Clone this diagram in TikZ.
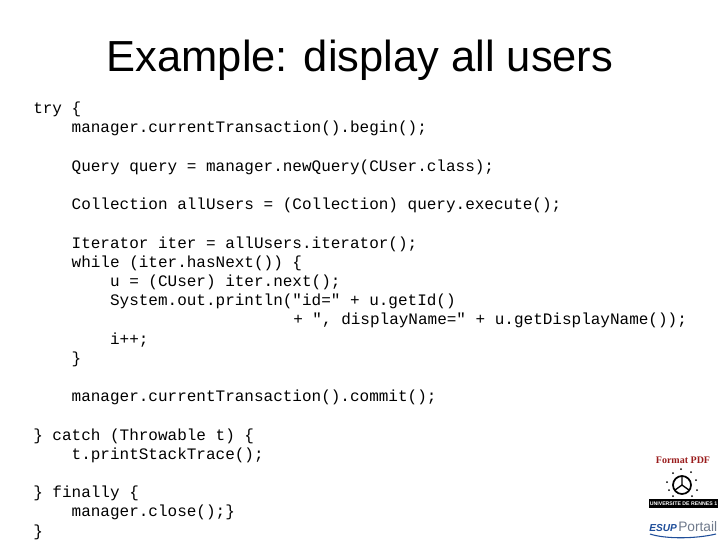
\documentclass[tikz,border=0pt]{standalone}
\usepackage{fontspec}
\setmainfont{Liberation Sans}
\newfontfamily\codefont{Liberation Mono}
\newfontfamily\logofont{Liberation Serif}
\definecolor{pdfred}{HTML}{9A1C1C}
\definecolor{esupblue}{HTML}{1F4E9A}
\definecolor{esupgrey}{HTML}{6F7A8C}
\begin{document}
\begin{tikzpicture}[x=0.75pt, y=-0.75pt, 
        code/.style = {anchor=base west, inner sep=0pt, font=\codefont\fontsize{12}{12}\selectfont}]
        \useasboundingbox[fill=white] (0,0) rectangle (720,540);
        \node[anchor=base, inner sep=0pt, font=\fontsize{32.6}{33}\selectfont] (title) at (360,71) {Example: display all users};
        % code lines
        \node[code] (try) at (33,113) {try \{};
        \node[code] (begin) at (71.4,132) {manager.currentTransaction().begin();};
        \node[code] (query) at (71.4,171) {Query query = manager.newQuery(CUser.class);};
        \node[code] (coll) at (71.4,209) {Collection allUsers = (Collection) query.execute();};
        \node[code] (iter) at (71.4,248) {Iterator iter = allUsers.iterator();};
        \node[code] (while) at (71.4,267) {while (iter.hasNext()) \{};
        \node[code] (user) at (109.8,286) {u = (CUser) iter.next();};
        \node[code] (print) at (109.8,305) {System.out.println("id=" + u.getId()};
        \node[code] (print2) at (293,324) {+ ", displayName=" + u.getDisplayName());};
        \node[code] (inc) at (109.8,344) {i++;};
        \node[code] (wend) at (71.4,363) {\}};
        \node[code] (commit) at (71.4,401) {manager.currentTransaction().commit();};
        \node[code] (catch) at (33,440) {\} catch (Throwable t) \{};
        \node[code] (trace) at (71.4,459) {t.printStackTrace();};
        \node[code] (final) at (33,497) {\} finally \{};
        \node[code] (close) at (71.4,516) {manager.close();\}};
        \node[code] (tend) at (33,536) {\}};
        % logos
        \node[anchor=base, inner sep=0pt, text=pdfred, font=\logofont\bfseries\fontsize{7.5}{7.5}\selectfont] (pdf) at (683,463) {Format PDF};
        \draw[line width=1.3pt] (682,485) circle (9);
        \draw[line width=1pt] (682,485) -- (682,477) (682,485) -- (675,490) (682,485) -- (689,490);
        \foreach \dx/\dy in {-15/-3,-13/5,-9/-12,-1/-16,9/-13,14/-5,15/5,-9/11,10/11} {
            \fill (682+\dx,485+\dy) circle (1);
        }
        \node[fill=black, text=white, inner sep=0pt, minimum width=51.75pt, minimum height=7.2pt, font=\bfseries\fontsize{3.9}{4}\selectfont] (rennes) at (683.5,503.5) {UNIVERSITE DE RENNES 1};
        \node[anchor=base west, inner sep=0pt, font=\bfseries\itshape\fontsize{7.6}{8}\selectfont, text=esupblue] (esup) at (649,531) {ESUP};
        \node[anchor=base west, inner sep=0pt, font=\fontsize{10.3}{10}\selectfont, text=esupgrey] (portail) at (678,531) {Portail};
        \draw[esupblue, line width=0.8pt] (650,534) .. controls (665,539) and (695,539) .. (716,534);
\end{tikzpicture}
\end{document}
